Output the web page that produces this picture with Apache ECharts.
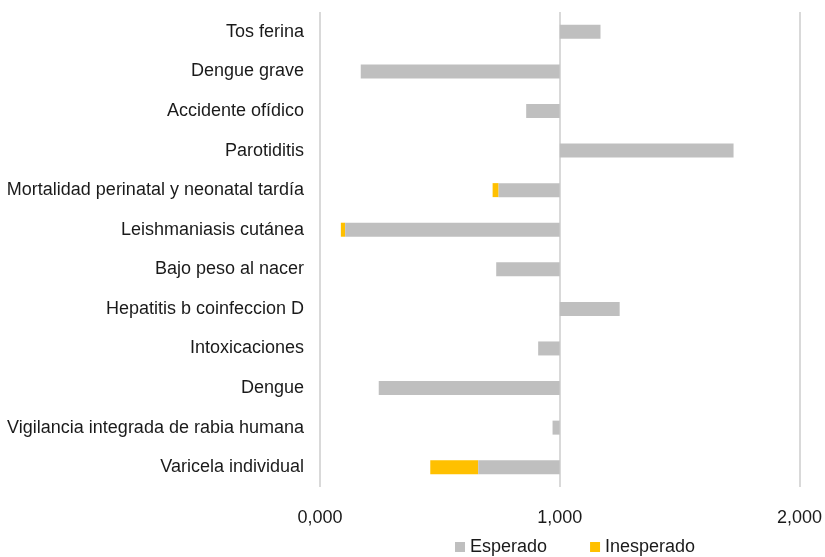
<!DOCTYPE html>
<html>
<head>
<meta charset="utf-8">
<script src="https://cdn.jsdelivr.net/npm/echarts@6/dist/echarts.min.js"></script>
<style>html,body{margin:0;padding:0;background:#fff}#c{width:825px;height:557px}</style>
</head>
<body>
<div id="c"></div>
<script>
// Categories top to bottom
const categorias = ["Tos ferina","Dengue grave","Accidente ofídico","Parotiditis","Mortalidad perinatal y neonatal tardía","Leishmaniasis cutánea","Bajo peso al nacer","Hepatitis b coinfeccion D","Intoxicaciones","Dengue","Vigilancia integrada de rabia humana","Varicela individual"];
// End of grey (Esperado) bar; bars start at 1
const esperado = [1.17, 0.17, 0.86, 1.725, 0.745, 0.105, 0.735, 1.25, 0.91, 0.245, 0.97, 0.66];
// End of yellow (Inesperado) segment, null if none
const inesperado = [null, null, null, null, 0.72, 0.087, null, null, null, null, null, 0.46];
const ticks = [0, 1, 2];

const base = [], amarillo = [], gris = [];
for (let i = 0; i < categorias.length; i++) {
  const e = esperado[i], u = inesperado[i];
  if (e >= 1) { base.push(1); amarillo.push(0); gris.push(+(e - 1).toFixed(4)); }
  else {
    const start = (u != null) ? u : e;
    base.push(start);
    amarillo.push(u != null ? +(e - u).toFixed(4) : 0);
    gris.push(+(1 - e).toFixed(4));
  }
}
const font = "'Liberation Sans Narrow','Arial Narrow','Liberation Sans',sans-serif";
const chart = echarts.init(document.getElementById('c'), null, {renderer: 'canvas'});
chart.setOption({
  animation: false,
  grid: {left: 320, right: 24, top: 12, bottom: 70},
  legend: {
    bottom: -4, left: 450, itemWidth: 10, itemHeight: 10, itemGap: 43,
    icon: 'rect',
    textStyle: {fontFamily: font, fontSize: 18, color: '#1a1a1a'},
    data: ['Esperado', 'Inesperado']
  },
  xAxis: {
    type: 'value', min: ticks[0], max: ticks[ticks.length - 1], interval: 1,
    axisLine: {show: false}, axisTick: {show: false},
    splitLine: {lineStyle: {color: '#d9d9d9', width: 2}},
    axisLabel: {fontFamily: font, fontSize: 18, color: '#1a1a1a', margin: 22,
      formatter: v => v.toFixed(3).replace('.', ',')}
  },
  yAxis: {
    type: 'category', data: categorias, inverse: true,
    axisLine: {show: false}, axisTick: {show: false},
    axisLabel: {fontFamily: font, fontSize: 18, color: '#1a1a1a', margin: 16}
  },
  series: [
    {name: 'base', type: 'bar', stack: 's', data: base, barWidth: 14,
     itemStyle: {color: 'transparent'}, silent: true},
    {name: 'Inesperado', type: 'bar', stack: 's', data: amarillo, barWidth: 14,
     itemStyle: {color: '#ffc000'}},
    {name: 'Esperado', type: 'bar', stack: 's', data: gris, barWidth: 14,
     itemStyle: {color: '#bfbfbf'}}
  ]
});
</script>
</body>
</html>
